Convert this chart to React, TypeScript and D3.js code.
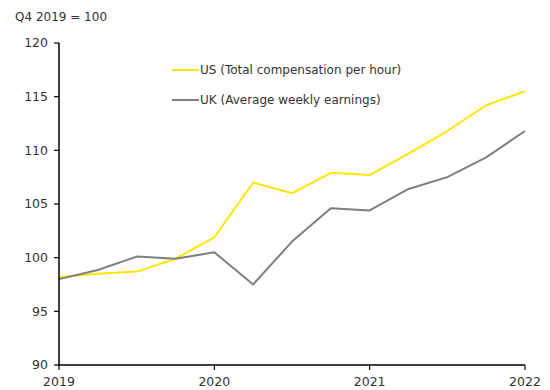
import React from "react";
import * as d3 from "d3";

// Quarterly index, Q4 2019 = 100
const quarters: number[] = [2019, 2019.25, 2019.5, 2019.75, 2020, 2020.25, 2020.5, 2020.75, 2021, 2021.25, 2021.5, 2021.75, 2022];
const usValues: number[] = [98.2, 98.5, 98.7, 99.9, 101.9, 107.0, 106.0, 107.9, 107.7, 109.7, 111.8, 114.2, 115.5];
const ukValues: number[] = [98.0, 98.85, 100.1, 99.9, 100.5, 97.5, 101.5, 104.6, 104.4, 106.4, 107.5, 109.35, 111.8];
const yTicks: number[] = [90, 95, 100, 105, 110, 115, 120];
const xTicks: number[] = [2019, 2020, 2021, 2022];
const seriesNames: string[] = ["US (Total compensation per hour)", "UK (Average weekly earnings)"];
const seriesColors: string[] = ["#FFE600", "#7F7F7F"];

const W = 550;
const H = 390;
const FONT = "'DejaVu Sans', Verdana, sans-serif";

export default function App() {
  const x = d3.scaleLinear().domain([2019, 2022]).range([59, 525]);
  const y = d3.scaleLinear().domain([90, 120]).range([365, 43]);

  const line = d3
    .line<[number, number]>()
    .x((d) => x(d[0]))
    .y((d) => y(d[1]));

  const series = [usValues, ukValues].map((vals) =>
    vals.map((v, i) => [quarters[i], v] as [number, number])
  );

  return (
    <svg
      width={W}
      height={H}
      style={{ position: "absolute", left: 0, top: 0, background: "#fff" }}
      fontFamily={FONT}
    >
      <text x={15} y={21} fontSize={12} fill="#333">
        Q4 2019 = 100
      </text>

      {/* series lines */}
      {series.map((s, i) => (
        <path key={i} d={line(s) ?? ""} fill="none" stroke={seriesColors[i]} strokeWidth={2} strokeLinejoin="round" />
      ))}

      {/* y axis */}
      <line x1={x(2019)} x2={x(2019)} y1={y(120)} y2={y(90)} stroke="#000" strokeWidth={1.5} />
      {yTicks.map((t) => (
        <g key={t}>
          <line x1={x(2019) - 5} x2={x(2019)} y1={y(t)} y2={y(t)} stroke="#000" strokeWidth={1.2} />
          <text x={x(2019) - 11} y={y(t)} dy="0.35em" textAnchor="end" fontSize={12.5} fill="#333">
            {t}
          </text>
        </g>
      ))}

      {/* x axis */}
      <line x1={x(2019)} x2={x(2022)} y1={y(90)} y2={y(90)} stroke="#000" strokeWidth={1.5} />
      {xTicks.map((t) => (
        <g key={t}>
          <line x1={x(t)} x2={x(t)} y1={y(90)} y2={y(90) + 5} stroke="#000" strokeWidth={1.2} />
          <text x={x(t)} y={y(90) + 21} textAnchor="middle" fontSize={12.5} fill="#333">
            {t}
          </text>
        </g>
      ))}

      {/* legend */}
      {seriesNames.map((name, i) => (
        <g key={name} transform={`translate(172, ${70 + i * 30})`}>
          <line x1={0} x2={27} y1={0} y2={0} stroke={seriesColors[i]} strokeWidth={2} />
          <text x={28} y={0} dy="0.35em" fontSize={12} fill="#333">
            {name}
          </text>
        </g>
      ))}
    </svg>
  );
}
